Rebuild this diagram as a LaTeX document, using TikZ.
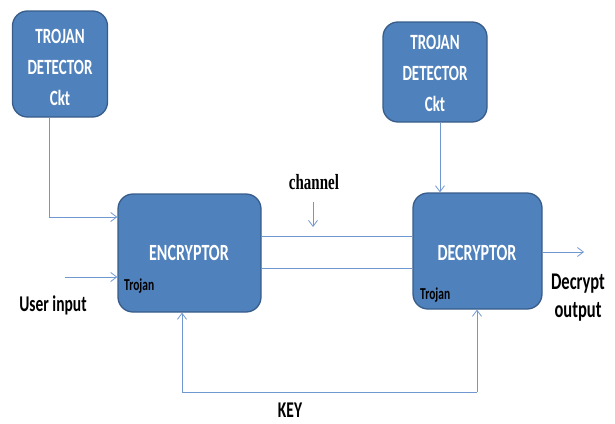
\documentclass[tikz,border=0pt]{standalone}
\usepackage{graphicx}
\usepackage{fontspec}
\setmainfont{Carlito}
\newfontfamily\serifbold{Liberation Serif}
\usetikzlibrary{arrows.meta}
\definecolor{boxfill}{HTML}{4F81BD}
\definecolor{boxedge}{HTML}{385D8A}
\definecolor{wire}{HTML}{6F98D0}
% condensed, tall lettering
\newcommand\tallt[1]{\scalebox{1}[1.45]{#1}}
\tikzset{
  block/.style={draw=boxedge, line width=1.3pt, fill=boxfill, rounded corners=15pt,
    text=white, font=\bfseries, align=center, inner sep=0pt},
  wireline/.style={draw=wire, line width=0.9pt},
  wirearrow/.style={wireline, -{Straight Barb[length=6pt,width=9pt,line width=0.8pt]}},
  lbl/.style={font=\bfseries, text=black, inner sep=0pt, align=center},
}
\begin{document}
\begin{tikzpicture}[x=1pt,y=-1pt]
\useasboundingbox (0,0) rectangle (615,423);

% detector circuits
\node[block, minimum width=95pt, minimum height=106pt] (det1) at (60,64) {};
\node[font=\bfseries\fontsize{15}{31}\selectfont, text=white, align=center] (det1txt) at (60,67)
  {\tallt{TROJAN}\\\tallt{DETECTOR}\\\tallt{Ckt}};
\node[block, minimum width=104pt, minimum height=100pt] (det2) at (435,72) {};
\node[font=\bfseries\fontsize{15}{31}\selectfont, text=white, align=center] (det2txt) at (435,73)
  {\tallt{TROJAN}\\\tallt{DETECTOR}\\\tallt{Ckt}};

% encryptor and decryptor
\node[block, minimum width=143pt, minimum height=118pt] (enc) at (189.5,253) {};
\node[font=\bfseries\fontsize{16}{19}\selectfont, text=white] (enctxt) at (189,253) {\tallt{ENCRYPTOR}};
\node[block, minimum width=129pt, minimum height=116pt] (dec) at (477.5,251) {};
\node[font=\bfseries\fontsize{16}{19}\selectfont, text=white] (dectxt) at (477,253) {\tallt{DECRYPTOR}};

\node[lbl, font=\bfseries\fontsize{11.5}{13}\selectfont, anchor=west] (troj1) at (124,286) {\tallt{Trojan}};
\node[lbl, font=\bfseries\fontsize{11.5}{13}\selectfont, anchor=west] (troj2) at (420,295) {\tallt{Trojan}};

% detector feeds
\coordinate (d1bend) at (49,217);
\draw[wirearrow] (det1.south -| d1bend) -- (d1bend) -- (enc.west |- d1bend);
\draw[wirearrow] (det2.south -| 440,0) -- (dec.north -| 440,0);

% user input
\coordinate (uin) at (65,277);
\draw[wirearrow] (uin) -- (enc.west |- uin);
\node[lbl, font=\bfseries\fontsize{15.5}{18}\selectfont] (user) at (53,305) {\tallt{User input}};

% channel
\draw[wireline] (enc.east |- 0,236) -- (dec.west |- 0,236);
\draw[wireline] (enc.east |- 0,268) -- (dec.west |- 0,268);
\coordinate (chtop) at (313,202);
\coordinate (chbot) at (313,227);
\draw[wirearrow] (chtop) -- (chbot);
\node[lbl, font=\serifbold\bfseries\fontsize{15}{18}\selectfont] (chan) at (314,182) {\tallt{channel}};

% output
\coordinate (out) at (584,252);
\draw[wirearrow] (dec.east |- out) -- (out);
\node[lbl, font=\bfseries\fontsize{16.5}{28}\selectfont] (outtxt) at (578,298) {\tallt{Decrypt}\\\tallt{output}};

% key loop
\coordinate (kl) at (182,392);
\coordinate (kr) at (477,392);
\draw[wirearrow] (kr) -- (kl) -- (enc.south -| kl);
\draw[wirearrow] (kr) -- (dec.south -| kr);
\node[lbl, font=\bfseries\fontsize{15.5}{18}\selectfont] (key) at (290,410) {\tallt{KEY}};
\end{tikzpicture}
\end{document}
